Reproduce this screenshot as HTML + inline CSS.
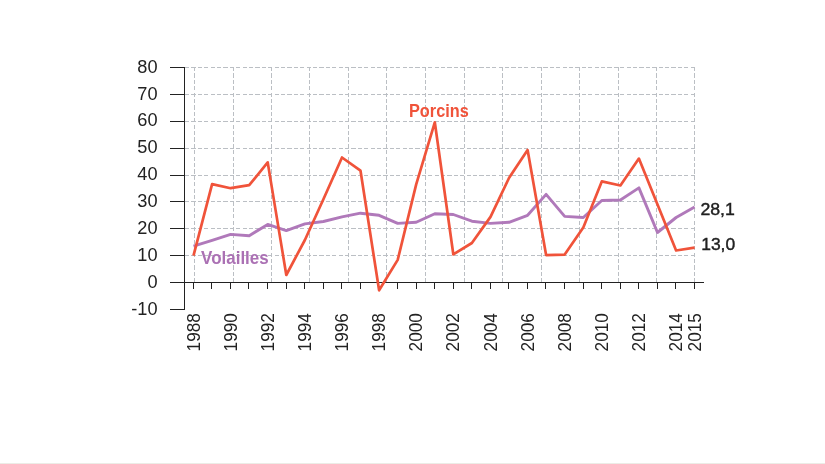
<!DOCTYPE html>
<html lang="fr"><head><meta charset="utf-8"><title>Porcins / Volailles</title>
<style>
html,body{margin:0;padding:0;background:#fff;}
body{width:825px;height:464px;overflow:hidden;position:relative;font-family:"Liberation Sans",sans-serif;}
svg{position:absolute;left:0;top:0;display:block;}
.ax{stroke:#222;stroke-width:1;fill:none;shape-rendering:crispEdges;}
.grid{stroke:#bbbfc4;stroke-width:1;fill:none;stroke-dasharray:4.2 2.2;shape-rendering:crispEdges;}
.lbl{font-family:"Liberation Sans",sans-serif;fill:#222;}
</style></head><body>
<svg width="825" height="464" viewBox="0 0 825 464">
<rect x="0" y="0" width="825" height="464" fill="#ffffff"/>
<rect x="0" y="463" width="825" height="1" fill="#ecece6"/>

<g class="grid">
<line x1="185" y1="255.5" x2="695" y2="255.5"/>
<line x1="185" y1="228.5" x2="695" y2="228.5"/>
<line x1="185" y1="201.5" x2="695" y2="201.5"/>
<line x1="185" y1="175.5" x2="695" y2="175.5"/>
<line x1="185" y1="148.5" x2="695" y2="148.5"/>
<line x1="185" y1="121.5" x2="695" y2="121.5"/>
<line x1="185" y1="94.5" x2="695" y2="94.5"/>
<line x1="185" y1="67.5" x2="695" y2="67.5"/>
<line x1="194.5" y1="67" x2="194.5" y2="282"/>
<line x1="233.5" y1="67" x2="233.5" y2="282"/>
<line x1="271.5" y1="67" x2="271.5" y2="282"/>
<line x1="309.5" y1="67" x2="309.5" y2="282"/>
<line x1="348.5" y1="67" x2="348.5" y2="282"/>
<line x1="386.5" y1="67" x2="386.5" y2="282"/>
<line x1="425.5" y1="67" x2="425.5" y2="282"/>
<line x1="464.5" y1="67" x2="464.5" y2="282"/>
<line x1="502.5" y1="67" x2="502.5" y2="282"/>
<line x1="541.5" y1="67" x2="541.5" y2="282"/>
<line x1="579.5" y1="67" x2="579.5" y2="282"/>
<line x1="618.5" y1="67" x2="618.5" y2="282"/>
<line x1="656.5" y1="67" x2="656.5" y2="282"/>
<line x1="694.5" y1="67" x2="694.5" y2="282"/>
</g>
<g class="ax">
<line x1="184.5" y1="67" x2="184.5" y2="310"/>
<line x1="170" y1="282.5" x2="704" y2="282.5"/>
<line x1="170" y1="255.5" x2="185" y2="255.5"/>
<line x1="170" y1="228.5" x2="185" y2="228.5"/>
<line x1="170" y1="201.5" x2="185" y2="201.5"/>
<line x1="170" y1="175.5" x2="185" y2="175.5"/>
<line x1="170" y1="148.5" x2="185" y2="148.5"/>
<line x1="170" y1="121.5" x2="185" y2="121.5"/>
<line x1="170" y1="94.5" x2="185" y2="94.5"/>
<line x1="170" y1="67.5" x2="185" y2="67.5"/>
<line x1="170" y1="309.5" x2="185" y2="309.5"/>
<line x1="193.5" y1="282" x2="193.5" y2="289"/>
<line x1="211.5" y1="282" x2="211.5" y2="289"/>
<line x1="230.5" y1="282" x2="230.5" y2="289"/>
<line x1="248.5" y1="282" x2="248.5" y2="289"/>
<line x1="267.5" y1="282" x2="267.5" y2="289"/>
<line x1="286.5" y1="282" x2="286.5" y2="289"/>
<line x1="304.5" y1="282" x2="304.5" y2="289"/>
<line x1="323.5" y1="282" x2="323.5" y2="289"/>
<line x1="341.5" y1="282" x2="341.5" y2="289"/>
<line x1="360.5" y1="282" x2="360.5" y2="289"/>
<line x1="378.5" y1="282" x2="378.5" y2="289"/>
<line x1="397.5" y1="282" x2="397.5" y2="289"/>
<line x1="416.5" y1="282" x2="416.5" y2="289"/>
<line x1="434.5" y1="282" x2="434.5" y2="289"/>
<line x1="453.5" y1="282" x2="453.5" y2="289"/>
<line x1="471.5" y1="282" x2="471.5" y2="289"/>
<line x1="490.5" y1="282" x2="490.5" y2="289"/>
<line x1="508.5" y1="282" x2="508.5" y2="289"/>
<line x1="527.5" y1="282" x2="527.5" y2="289"/>
<line x1="545.5" y1="282" x2="545.5" y2="289"/>
<line x1="564.5" y1="282" x2="564.5" y2="289"/>
<line x1="583.5" y1="282" x2="583.5" y2="289"/>
<line x1="601.5" y1="282" x2="601.5" y2="289"/>
<line x1="620.5" y1="282" x2="620.5" y2="289"/>
<line x1="638.5" y1="282" x2="638.5" y2="289"/>
<line x1="657.5" y1="282" x2="657.5" y2="289"/>
<line x1="675.5" y1="282" x2="675.5" y2="289"/>
<line x1="694.5" y1="282" x2="694.5" y2="289"/>
</g>
<g class="lbl" font-size="17.5" text-anchor="end">
<text transform="translate(157.6,287.6) scale(1.04,1)">0</text>
<text transform="translate(157.6,260.7) scale(1.04,1)">10</text>
<text transform="translate(157.6,233.8) scale(1.04,1)">20</text>
<text transform="translate(157.6,207.0) scale(1.04,1)">30</text>
<text transform="translate(157.6,180.1) scale(1.04,1)">40</text>
<text transform="translate(157.6,153.2) scale(1.04,1)">50</text>
<text transform="translate(157.6,126.3) scale(1.04,1)">60</text>
<text transform="translate(157.6,99.5) scale(1.04,1)">70</text>
<text transform="translate(157.6,72.6) scale(1.04,1)">80</text>
<text transform="translate(157.6,314.5) scale(1.04,1)">-10</text>
</g>
<g class="lbl" font-size="18.8">
<text transform="translate(199.5,351.4) rotate(-90)" textLength="38.3" lengthAdjust="spacingAndGlyphs">1988</text>
<text transform="translate(236.6,351.4) rotate(-90)" textLength="38.3" lengthAdjust="spacingAndGlyphs">1990</text>
<text transform="translate(273.7,351.4) rotate(-90)" textLength="38.3" lengthAdjust="spacingAndGlyphs">1992</text>
<text transform="translate(310.9,351.4) rotate(-90)" textLength="38.3" lengthAdjust="spacingAndGlyphs">1994</text>
<text transform="translate(348.0,351.4) rotate(-90)" textLength="38.3" lengthAdjust="spacingAndGlyphs">1996</text>
<text transform="translate(385.1,351.4) rotate(-90)" textLength="38.3" lengthAdjust="spacingAndGlyphs">1998</text>
<text transform="translate(422.2,351.4) rotate(-90)" textLength="38.3" lengthAdjust="spacingAndGlyphs">2000</text>
<text transform="translate(459.3,351.4) rotate(-90)" textLength="38.3" lengthAdjust="spacingAndGlyphs">2002</text>
<text transform="translate(496.5,351.4) rotate(-90)" textLength="38.3" lengthAdjust="spacingAndGlyphs">2004</text>
<text transform="translate(533.6,351.4) rotate(-90)" textLength="38.3" lengthAdjust="spacingAndGlyphs">2006</text>
<text transform="translate(570.7,351.4) rotate(-90)" textLength="38.3" lengthAdjust="spacingAndGlyphs">2008</text>
<text transform="translate(607.8,351.4) rotate(-90)" textLength="38.3" lengthAdjust="spacingAndGlyphs">2010</text>
<text transform="translate(644.9,351.4) rotate(-90)" textLength="38.3" lengthAdjust="spacingAndGlyphs">2012</text>
<text transform="translate(682.1,351.4) rotate(-90)" textLength="38.3" lengthAdjust="spacingAndGlyphs">2014</text>
<text transform="translate(700.6,351.4) rotate(-90)" textLength="38.3" lengthAdjust="spacingAndGlyphs">2015</text>
</g>
<polyline points="193.5,246.2 212.1,240.3 230.6,234.4 249.2,235.7 267.7,224.4 286.3,230.6 304.9,223.9 323.4,221.5 342.0,216.9 360.5,213.2 379.1,215.3 397.7,223.4 416.2,222.3 434.8,213.7 453.3,214.5 471.9,221.2 490.5,223.4 509.0,222.3 527.6,215.3 546.1,194.4 564.7,216.4 583.3,217.5 601.8,200.5 620.4,200.0 638.9,187.9 657.5,232.5 676.1,217.5 694.6,207.0" fill="none" stroke="#b079ba" stroke-width="2.9" stroke-linejoin="round"/>
<polyline points="193.5,255.6 212.1,184.1 230.6,188.2 249.2,185.2 267.7,162.4 286.3,275.0 304.9,240.0 323.4,199.2 342.0,157.5 360.5,170.7 379.1,290.3 397.7,259.9 416.2,184.4 434.8,122.3 453.3,254.3 471.9,243.0 490.5,216.9 509.0,178.0 527.6,150.0 546.1,255.1 564.7,254.6 583.3,227.4 601.8,181.4 620.4,185.5 638.9,158.6 657.5,204.6 676.1,250.5 694.6,247.6" fill="none" stroke="#f0533a" stroke-width="2.7" stroke-linejoin="round"/>
<text x="201.1" y="263.6" font-family="Liberation Sans, sans-serif" font-weight="bold" font-size="18.2" fill="#ab71b4" textLength="67.6" lengthAdjust="spacingAndGlyphs">Volailles</text>
<text x="409.0" y="116.5" font-family="Liberation Sans, sans-serif" font-weight="bold" font-size="17.9" fill="#f0533a" textLength="59.7" lengthAdjust="spacingAndGlyphs">Porcins</text>
<text x="700.4" y="214.7" class="lbl" font-size="16.8" stroke="#1a1a1a" stroke-width="0.4" textLength="34.5" lengthAdjust="spacingAndGlyphs">28,1</text>
<text x="701.2" y="249.6" class="lbl" font-size="16.8" stroke="#1a1a1a" stroke-width="0.4" textLength="34" lengthAdjust="spacingAndGlyphs">13,0</text>
</svg>
</body></html>
